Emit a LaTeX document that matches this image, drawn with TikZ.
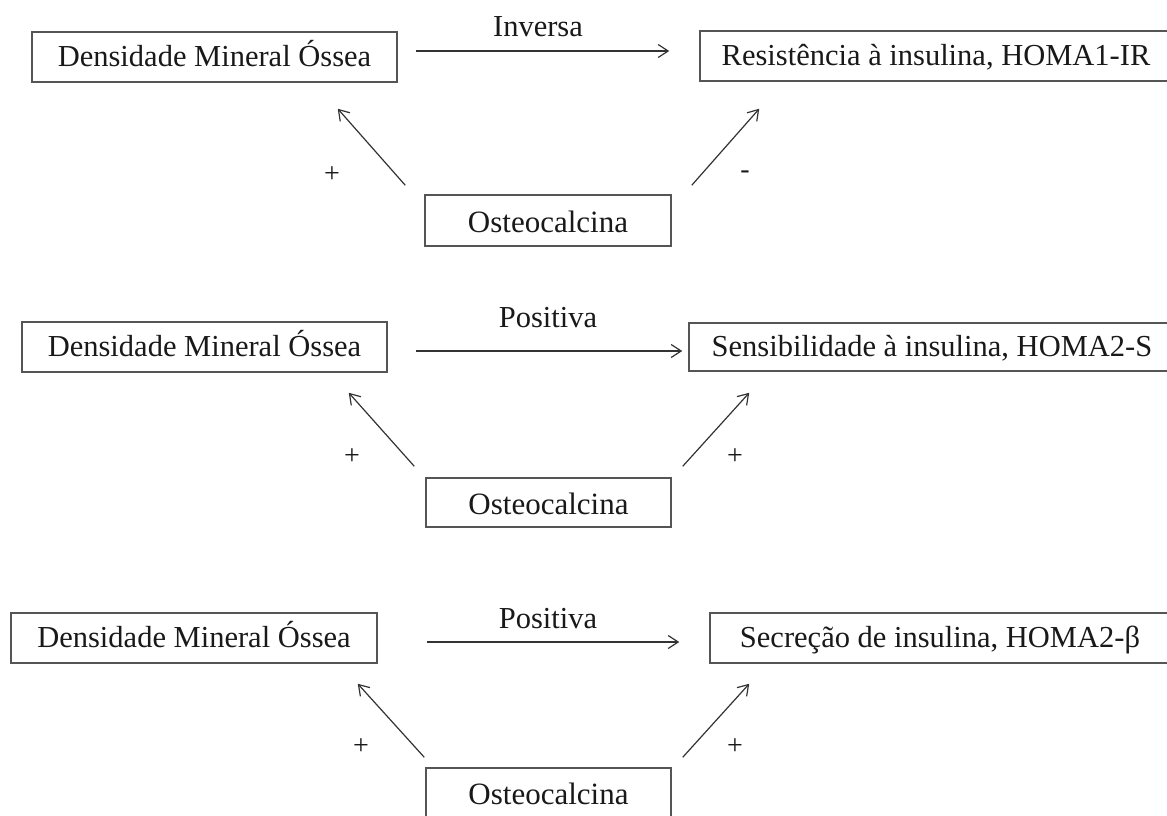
\documentclass[tikz,border=0pt]{standalone}
\usepackage{fontspec}
\setmainfont{Liberation Serif}
\usetikzlibrary{arrows.meta}
\definecolor{edge}{HTML}{555555}
\definecolor{linkc}{HTML}{333333}
\tikzset{
  box/.style={draw=edge, line width=1.5pt, inner sep=0pt, text=black!90,
    font=\fontsize{30.5}{36}\selectfont, text height=22pt, text depth=3pt},
  obox/.style={box, font=\fontsize{31}{37}\selectfont, text height=24pt, text depth=1pt},
  link/.style={draw=linkc, line width=1.2pt,
    -{Straight Barb[length=10pt,width=13pt,line width=1.2pt]}},
  lbl/.style={font=\fontsize{30.5}{36}\selectfont, inner sep=0pt, text=black!90},
  sign/.style={font=\fontsize{28}{32}\selectfont, inner sep=0pt, text=black!90},
}
\begin{document}
\begin{tikzpicture}[x=1pt,y=-1pt]
\useasboundingbox (0,0) rectangle (1167,815);
\fill[white] (0,0) rectangle (1167,815);
\clip (0,0) rectangle (1167,815);

% ---- first block: HOMA1-IR
\node[box, minimum width=365pt, minimum height=50pt] (d1) at (214.5,57) {Densidade Mineral Óssea};
\node[box, minimum width=472pt, minimum height=50pt] (r1) at (936,56) {Resistência à insulina, HOMA1-IR};
\node[obox, minimum width=246pt, minimum height=51pt] (o1) at (548,220.5) {Osteocalcina};
\draw[link, shorten <=18pt, shorten >=30pt] ([yshift=6pt]d1.east) -- ([yshift=5pt]r1.west);
\node[lbl] (t1) at (538,27) {Inversa};
\draw[link] ([shift={(-19,-9)}]o1.north west) -- ([shift={(-60,26)}]d1.south east);
\draw[link] ([shift={(20,-9)}]o1.north east) -- ([shift={(60,27)}]r1.south west);
\node[sign] (p1) at (332,175) {+};
\node[sign] (m1) at (745,175) {-};

% ---- second block: HOMA2-S
\node[box, minimum width=365pt, minimum height=50pt] (d2) at (204.5,347) {Densidade Mineral Óssea};
\node[box, minimum width=486pt, minimum height=48pt] (r2) at (932,347) {Sensibilidade à insulina, HOMA2-S};
\node[obox, minimum width=245pt, minimum height=49pt] (o2) at (548.5,502.5) {Osteocalcina};
\draw[link, shorten <=28pt, shorten >=6pt] ([yshift=-4pt]d2.east) -- ([yshift=-4pt]r2.west);
\node[lbl] (t2) at (548,318) {Positiva};
\draw[link] ([shift={(-11,-11)}]o2.north west) -- ([shift={(-39,20)}]d2.south east);
\draw[link] ([shift={(11,-11)}]o2.north east) -- ([shift={(61,21)}]r2.south west);
\node[sign] (p2) at (352,457) {+};
\node[sign] (p3) at (735,457) {+};

% ---- third block: HOMA2-beta
\node[box, minimum width=366pt, minimum height=50pt] (d3) at (194,638) {Densidade Mineral Óssea};
\node[box, minimum width=460pt, minimum height=50pt] (r3) at (940,638) {Secreção de insulina, HOMA2-β};
\node[obox, minimum width=245pt, minimum height=50pt] (o3) at (548.5,793) {Osteocalcina};
\draw[link, shorten <=49pt, shorten >=30pt] ([yshift=-4pt]d3.east) -- ([yshift=-4pt]r3.west);
\node[lbl] (t3) at (548,619) {Positiva};
\draw[link] ([shift={(-1,-10)}]o3.north west) -- ([shift={(-20,20)}]d3.south east);
\draw[link] ([shift={(11,-10)}]o3.north east) -- ([shift={(40,20)}]r3.south west);
\node[sign] (p4) at (361,747) {+};
\node[sign] (p5) at (735,747) {+};
\end{tikzpicture}
\end{document}
